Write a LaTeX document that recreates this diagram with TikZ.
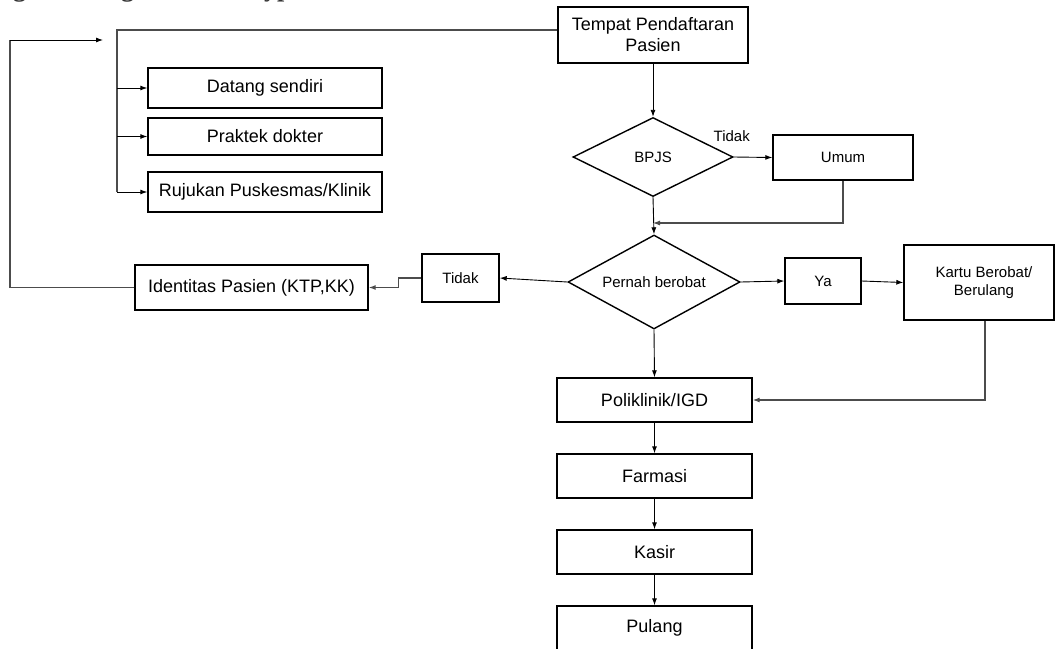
\documentclass[tikz,border=0pt]{standalone}
\usepackage{fontspec}
\setmainfont{Liberation Sans}
\newfontfamily\headfont{Liberation Serif}
\usetikzlibrary{arrows.meta,shapes.geometric,calc}

\newcommand{\bigtxt}{\fontsize{18}{21}\selectfont}
\newcommand{\smalltxt}{\fontsize{15}{18}\selectfont}

\tikzset{
  box/.style={draw=black, line width=1.4pt, rectangle, inner sep=0pt, align=center, font=\bigtxt},
  sbox/.style={box, font=\smalltxt},
  dia/.style={draw=black, line width=1.4pt, diamond, inner sep=0pt, align=center, font=\smalltxt},
  arr/.style={draw=black, line width=0.9pt, -{Latex[length=7pt,width=5pt]}},
  garr/.style={draw=black!70, line width=1.1pt, -{Latex[length=7pt,width=5pt]}},
  gline/.style={draw=black!70, line width=1.1pt},
  lbl/.style={font=\smalltxt, inner sep=0pt},
  headfrag/.style={font=\headfont\bfseries\fontsize{26}{30}\selectfont, inner sep=0pt, anchor=base west, text=black!80}
}

\begin{document}
\begin{tikzpicture}[x=1pt, y=-1pt]
\useasboundingbox (0,0) rectangle (1057,648);

% heading line above the chart (only its descenders reach into the page)
\node[headfrag] (hg1) at (13,-3.6) {g};
\node[headfrag] (hg2) at (121,-3.6) {g};
\node[headfrag] (hyp) at (264,-3.6) {yp};

% registration and arrival routes
\node[box, minimum width=190pt, minimum height=56pt] (tempat) at (653,35) {Tempat Pendaftaran\\Pasien};
\node[box, minimum width=234pt, minimum height=40pt] (datang) at (265,88) {Datang sendiri};
\node[box, minimum width=234pt, minimum height=37pt] (praktek) at (265,136.5) {Praktek dokter};
\node[box, minimum width=234pt, minimum height=40pt] (rujukan) at (265,192) {Rujukan Puskesmas/Klinik};

% payment decision
\node[dia, aspect=2.03, minimum width=160pt, minimum height=79pt] (bpjs) at (653,157) {BPJS};
\node[sbox, minimum width=140pt, minimum height=45pt] (umum) at (843,157.5) {Umum};

% visit history decision
\node[dia, aspect=1.83, minimum width=172pt, minimum height=94pt] (pernah) at (654,282) {Pernah berobat};
\node[sbox, minimum width=77pt, minimum height=48pt] (tidak) at (460.5,278) {Tidak};
\node[box, minimum width=233pt, minimum height=45pt] (ident) at (251.5,287.5) {Identitas Pasien (KTP,KK)};
\node[sbox, minimum width=76pt, minimum height=46pt] (ya) at (823,281) {Ya};
\node[sbox, minimum width=150pt, minimum height=75pt] (kartu) at (979,282.5) {\hspace*{10pt}Kartu Berobat/\\\hspace*{10pt}Berulang};

% service chain
\node[box, minimum width=195pt, minimum height=44pt] (poli) at (654.5,400) {Poliklinik/IGD};
\node[box, minimum width=195pt, minimum height=44pt] (farmasi) at (654.5,476) {Farmasi};
\node[box, minimum width=195pt, minimum height=44pt] (kasir) at (654.5,552) {Kasir};
\node[box, minimum width=195pt, minimum height=44pt] (pulang) at (654.5,628) {Pulang};

% helper points
\coordinate (brTop) at (117,30);
\coordinate (entry) at (103,40);
\coordinate (loopL) at (10,40);
\coordinate (join) at (653,223);

% bracket feeding the arrival routes
\draw[gline] (tempat.west |- brTop) -- (brTop) -- (brTop |- rujukan.west);
\draw[arr] (brTop |- datang.west) -- (datang.west);
\draw[arr] (brTop |- praktek.west) -- (praktek.west);
\draw[arr] (brTop |- rujukan.west) -- (rujukan.west);

% main flow
\draw[arr] (tempat.south) -- (bpjs.north);
\draw[arr] (bpjs.east) -- node[lbl, pos=0, above=15pt, xshift=-2pt] (lblTidak) {Tidak} (umum.west);
\draw[garr] (umum.south) |- (join);
\draw[arr] (bpjs.south) -- (pernah.north);
\draw[arr] (pernah.west) -- (tidak.east);
\draw[garr] (tidak.west) -- ++(-23,0) |- (ident.east);
\draw[gline] (ident.west) -| (loopL);
\draw[arr] (loopL) -- (entry);
\draw[arr] (pernah.east) -- (ya.west);
\draw[arr] (ya.east) -- (kartu.west);
\draw[garr] ([xshift=6pt]kartu.south) |- (poli.east);
\draw[arr] (pernah.south) -- (poli.north);
\draw[arr] (poli.south) -- (farmasi.north);
\draw[arr] (farmasi.south) -- (kasir.north);
\draw[arr] (kasir.south) -- (pulang.north);
\end{tikzpicture}
\end{document}
